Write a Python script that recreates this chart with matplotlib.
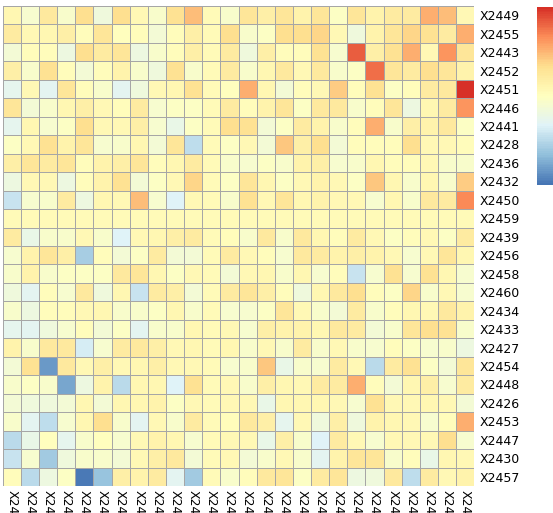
import numpy as np
import matplotlib.pyplot as plt
from matplotlib.colors import LinearSegmentedColormap

row_labels = ['X2449', 'X2455', 'X2443', 'X2452', 'X2451', 'X2446', 'X2441', 'X2428',
              'X2436', 'X2432', 'X2450', 'X2459', 'X2439', 'X2456', 'X2458', 'X2460',
              'X2434', 'X2433', 'X2427', 'X2454', 'X2448', 'X2426', 'X2453', 'X2447',
              'X2430', 'X2457']
col_labels = ['X2443', 'X2451', 'X2448', 'X2450', 'X2457', 'X2447', 'X2430', 'X2436',
              'X2433', 'X2452', 'X2446', 'X2459', 'X2456', 'X2453', 'X2460', 'X2439',
              'X2441', 'X2458', 'X2449', 'X2428', 'X2454', 'X2434', 'X2426', 'X2427',
              'X2455', 'X2432']

# one list per row (top to bottom), 26 columns each
values = [
    [0.3, -0.3, 0.7, -0.2, 1.0, -0.5, 1.0, 0.2, -0.2, 0.9, 1.4, 0.15, -0.2, 0.8, 0.5, 0.8, 0.4, 0.8, -0.1, 0.8, 0.4, 0.6, 0.6, 1.6, 1.4, 0.2],
    [0.6, 0.2, 0.3, 0.5, 0.1, 0.8, 0.0, 0.1, -0.4, 0.1, 0.5, 0.15, 1.0, -0.2, -0.1, 1.0, 1.0, 1.1, 0.2, -0.5, 0.4, 0.8, 1.1, 0.9, 0.6, 1.6],
    [-0.4, 0.1, 0.1, -0.6, 1.0, 0.6, 0.8, -0.6, -0.2, 0.1, 0.5, 0.15, 0.6, -0.5, 0.5, 0.1, 0.1, 0.9, -0.3, 2.5, 0.5, 0.9, 1.6, 0.2, 1.9, 0.8],
    [0.5, -0.2, 0.9, 0.1, -0.4, 0.1, 0.4, -0.2, -0.5, 0.9, -0.2, 0.15, 0.6, -0.2, 0.3, 0.7, 0.2, 0.7, -0.2, -0.1, 2.3, 0.8, 0.6, 1.0, 0.8, 0.4],
    [-0.8, 0.2, -0.9, 0.8, 0.1, -0.2, -0.9, -0.5, 0.2, 0.3, 0.9, 0.15, 0.0, 1.6, 0.3, -0.4, 0.1, 0.2, 1.2, 0.1, 0.9, -0.1, 0.1, 0.6, 0.7, 3.0],
    [0.8, -0.4, -0.2, 0.3, 0.5, 0.2, 0.1, 0.6, -0.3, -0.1, -0.1, 0.15, 0.6, 0.1, 0.4, 0.8, -0.1, 0.7, 0.7, -0.2, 0.1, 0.8, -0.6, 0.3, 0.6, 1.9],
    [-0.8, 0.3, -0.3, -0.1, 1.0, 0.2, 0.2, 0.5, -0.3, -0.7, -0.1, 0.15, 1.0, 0.9, -0.4, -0.1, 0.6, 0.4, -0.2, 0.1, 1.6, -0.2, 0.5, 0.4, 0.7, -0.1],
    [-0.1, 0.2, 0.9, 0.4, 0.8, -0.3, -0.2, 0.3, -0.4, 0.8, -1.4, 0.15, -0.1, 0.2, -0.4, 1.3, 0.5, 1.0, -0.4, 0.1, 0.1, 0.1, 1.0, 0.2, 0.2, 0.1],
    [0.5, 0.8, 0.6, 0.8, 0.1, 0.4, 0.5, 0.8, 0.1, 0.3, 0.6, 0.15, -0.2, -0.3, -0.1, -0.2, 0.4, 0.5, -0.3, -0.2, 0.3, 0.1, 0.1, 0.2, -0.2, -0.2],
    [-0.6, 0.2, 0.2, -0.6, 0.1, 0.4, 0.9, -0.4, -0.1, 0.2, 1.1, 0.15, -0.1, 0.8, 0.3, -0.1, 0.2, 0.4, 0.2, -0.1, 1.3, 0.3, -0.2, 0.3, -0.2, 1.2],
    [-1.3, -0.3, -0.2, 0.6, -0.6, 0.3, 0.2, 1.4, -0.3, -1.0, 0.2, 0.15, -0.2, 0.9, 0.2, 0.8, 0.3, 0.4, 0.2, 0.2, -0.3, 0.3, -0.2, 0.7, 0.6, 2.0],
    [0.15] * 26,
    [0.6, -0.7, -0.2, -0.2, 0.2, -0.2, -1.0, 0.2, 0.3, 0.5, 0.6, 0.15, 0.1, -0.2, 0.7, -0.2, 0.7, 0.3, 0.1, 0.6, 0.2, -0.1, 0.1, 0.2, -0.1, 0.6],
    [-0.3, 0.4, 0.8, 0.5, -1.7, 0.1, -0.4, -0.1, 0.6, -0.4, -0.4, 0.15, 0.6, 0.2, 0.1, -0.3, 0.7, 0.6, 0.4, 0.5, 0.4, 0.2, -0.3, 0.2, 0.8, 0.3],
    [-0.2, 0.4, -0.2, -0.1, -0.1, -0.1, 0.7, 0.8, 0.3, -0.1, 0.2, 0.15, -0.4, 0.2, 0.3, -0.2, 0.3, -0.3, 0.1, -1.3, -0.3, 0.9, -0.3, 0.9, 0.3, -0.3],
    [-0.5, -0.9, 0.1, -0.3, 0.7, -0.5, 0.3, -1.3, 0.6, 0.5, -0.4, 0.15, 0.6, 0.8, 0.5, 0.1, -0.5, 0.3, 0.7, 1.0, 0.1, -0.1, 1.1, -0.2, 0.2, -0.3],
    [-0.2, -0.6, 0.1, 0.1, 0.2, 0.3, -0.2, -0.2, -0.1, 0.3, -0.2, 0.15, -0.3, -0.3, -0.1, 0.8, 0.2, -0.2, -0.4, 0.6, -0.2, 0.1, 0.3, 0.2, 0.7, 0.4],
    [-0.8, -0.9, -0.5, -0.3, 0.1, -0.4, -0.1, -0.9, -0.2, -0.2, 0.3, 0.15, 0.2, -0.3, 0.5, 0.4, 0.4, 0.3, 0.7, 0.6, -0.4, -0.2, 0.8, 1.0, 0.9, -0.2],
    [0.4, -0.2, 0.7, 0.7, -1.1, -0.3, 0.6, 0.7, 0.5, 0.2, 0.3, 0.15, 0.3, -0.2, 0.2, -0.2, 0.6, -0.2, 0.2, -0.2, -0.3, 0.1, -0.1, -0.3, -0.2, -0.6],
    [-0.4, 0.9, -2.5, 0.7, 0.2, 0.5, 0.2, 0.3, 0.5, 0.2, 0.2, 0.15, -0.3, -0.2, 1.3, -0.7, -0.2, -0.3, 0.6, 0.2, -1.5, 0.6, 0.9, -0.1, -0.4, 0.8],
    [-0.2, -0.1, -0.2, -2.3, -0.6, 0.4, -1.5, 0.3, 0.3, -1.0, 0.9, 0.15, 0.2, -0.2, 0.5, 0.3, 0.2, 0.6, 0.6, 1.6, 0.1, -0.4, 0.3, 0.5, -0.3, 0.6],
    [-0.4, -0.5, -0.5, -0.4, 0.3, -0.4, 0.3, 0.3, 0.4, -0.1, 0.2, 0.15, 0.2, 0.2, -0.7, 0.3, 0.3, 0.3, 0.2, -0.3, 0.9, 0.2, 0.2, 0.3, 0.2, -0.4],
    [-0.2, -0.9, -1.4, -0.3, 0.3, 1.0, -0.2, -0.9, 0.2, -0.2, 0.6, 0.15, 0.1, 0.7, 0.5, -0.8, 0.2, -0.5, 0.5, -0.5, 0.4, 0.3, 0.2, -0.3, 0.1, 1.6],
    [-1.5, -0.7, 0.0, -0.8, -0.2, 0.0, -0.3, 0.2, 0.4, 0.3, -0.3, 0.15, 0.2, 0.2, -0.7, 0.5, -0.2, -1.0, 0.6, 0.2, -0.3, 0.2, 0.2, 0.2, 1.0, -0.3],
    [-1.3, -0.3, -1.8, -0.5, -0.2, -0.2, -0.4, 0.2, 0.5, 0.7, -0.4, 0.15, 0.2, -0.4, -0.2, 0.2, -0.2, -0.9, 0.4, 0.8, 0.8, -0.2, 0.1, -0.7, 0.3, 0.2],
    [0.1, -1.5, -0.6, -0.1, -2.9, -1.9, 0.5, 0.4, 0.6, -0.9, -1.8, 0.15, -0.2, 0.1, 0.7, 0.8, -0.1, 0.6, 0.8, -0.6, -0.5, 0.7, -1.4, 0.6, 0.2, 0.4],
]

data = np.array(values)
nr, nc = data.shape

# pheatmap default palette: rev(brewer.pal(7, "RdYlBu"))
pal = ['#4575B4', '#91BFDB', '#E0F3F8', '#FFFFBF', '#FEE090', '#FC8D59', '#D73027']
cmap = LinearSegmentedColormap.from_list('rdylbu_r', pal, N=100)

fig = plt.figure(figsize=(5.53, 5.13), dpi=100)
ax = fig.add_axes([2.7 / 553, 27 / 513, 471.6 / 553, 480 / 513])
mesh = ax.pcolormesh(data, cmap=cmap, vmin=-3, vmax=3,
                     edgecolors='#A6A6A6', linewidth=0.7)
ax.set_xlim(0, nc)
ax.set_ylim(nr, 0)
for s in ax.spines.values():
    s.set_visible(False)

ax.yaxis.tick_right()
ax.set_yticks(np.arange(nr) + 0.5)
ax.set_yticklabels(row_labels, fontsize=9, family='DejaVu Sans')
ax.set_xticks(np.arange(nc) + 0.5)
# column names run off the bottom edge, as in the original
ax.set_xticklabels(col_labels, fontsize=9, family='DejaVu Sans', rotation=270)
ax.tick_params(axis='both', length=0)
ax.tick_params(axis='y', pad=4)
ax.tick_params(axis='x', pad=3)

cax = fig.add_axes([537 / 553, (513 - 185) / 513, 18 / 553, 178 / 513])
cb = fig.colorbar(mesh, cax=cax)
cb.outline.set_visible(False)
cb.set_ticks([])

fig.savefig('out.png', dpi=100)
